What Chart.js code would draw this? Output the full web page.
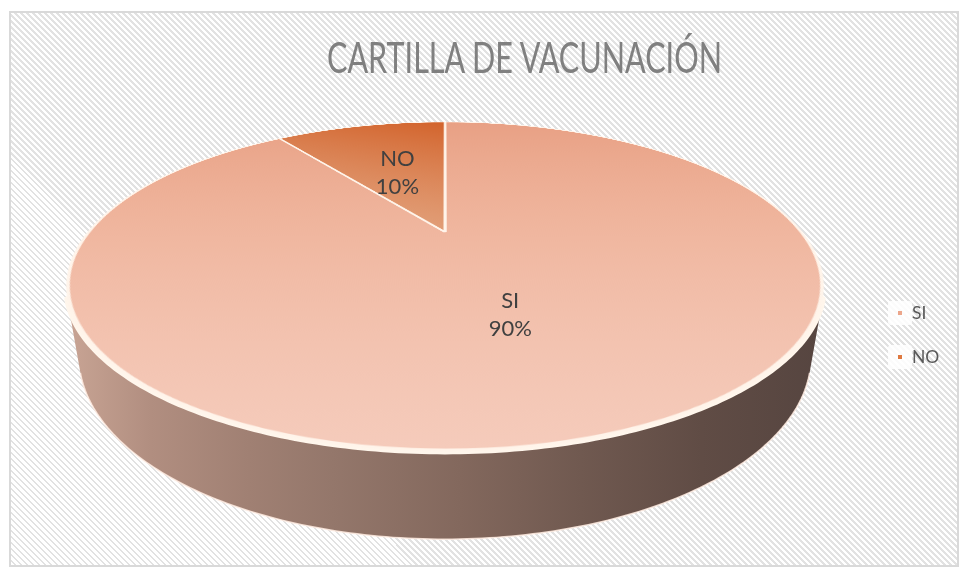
<!DOCTYPE html>
<html lang="es">
<head>
<meta charset="utf-8">
<title>CARTILLA DE VACUNACIÓN</title>
<script src="https://cdn.jsdelivr.net/npm/chart.js@4.4.1/dist/chart.umd.min.js"></script>
<style>
  html, body { margin:0; padding:0; width:967px; height:577px; overflow:hidden; background:#ffffff; }
  #frame { position:absolute; left:9px; top:11px; width:946px; height:552px; border:2px solid #d9d9d9;
    background-color:#ffffff;
    background-image: repeating-linear-gradient(45deg, #ffffff 0px, #ffffff 2.3px, #e2e2e2 2.3px, #e2e2e2 4.24px); }
  #wall { position:absolute; left:0; top:0; }
  #pie { position:absolute; }
  #title { position:absolute; white-space:nowrap; font-family:Lato, 'Open Sans', sans-serif; color:#808080; transform-origin:0 0; }
  .lbl { position:absolute; font-family:Lato, 'Open Sans', sans-serif; font-size:22px; line-height:28px; color:#404040; text-align:center; white-space:nowrap; transform:translate(-50%,-50%); }
  .lgbox { position:absolute; width:24px; height:24px; background:rgba(255,255,255,0.85); border-radius:3px; }
  .lgmark { position:absolute; width:4px; height:4px; }
  .lgtext { position:absolute; font-family:Lato, 'Open Sans', sans-serif; font-size:17.5px; line-height:20px; color:#595959; white-space:nowrap; }
</style>
</head>
<body>
<div id="frame"></div>
<canvas id="wall" width="967" height="577"></canvas>
<canvas id="pie" width="760" height="760"></canvas>
<div id="overlay"></div>
<script>
// ---------------- data ----------------
const TITLE = 'CARTILLA DE VACUNACIÓN';
const categories = ['SI', 'NO'];
const percentValues = [90, 10];
const legendColors = ['#eca68b', '#df7940'];

// ---------------- style / 3D view ----------------
const PIE_RADIUS = 356;          // radius of the pie disc (px, before tilt)
const TILT_DEG = 65.75;          // rotateX of the pie plane
const PERSPECTIVE = 985.7;       // css perspective distance
const DEPTH = 75;                // thickness of the pie
const CENTER = { x: 445, y: 232 };
const BORDER_W = 3;
const BORDER_COLOR = '#fff4ea';
const faceStops = [
  [['#e8a084', 0], ['#efb49c', 0.45], ['#f5cbbb', 1]],
  [['#d2622a', 0], ['#e3a47f', 1]]
];
const wallStops = [
  [[0, '#c8a494'], [0.11, '#b18e80'], [0.24, '#a08073'], [0.35, '#94776b'], [0.52, '#83685d'], [0.68, '#705950'], [0.84, '#604c45'], [1, '#564540']],
  [[0, '#b5663a'], [1, '#5e3320']]
];

const T = TILT_DEG * Math.PI / 180;
const cosT = Math.cos(T), sinT = Math.sin(T);

function project(lx, ly, lz) {
  const y1 = ly * cosT - lz * sinT;
  const z1 = ly * sinT + lz * cosT;
  const f = PERSPECTIVE / (PERSPECTIVE - z1);
  return [CENTER.x + lx * f, CENTER.y + y1 * f];
}

// place the pie canvas in 3D
const pieCanvas = document.getElementById('pie');
const HALF = pieCanvas.width / 2;
pieCanvas.style.left = (CENTER.x - HALF) + 'px';
pieCanvas.style.top = (CENTER.y - HALF) + 'px';
pieCanvas.style.transformOrigin = HALF + 'px ' + HALF + 'px';
pieCanvas.style.transform = 'perspective(' + PERSPECTIVE + 'px) rotateX(' + TILT_DEG + 'deg)';

function faceFill(ctx) {
  const chart = ctx.chart;
  const a = chart.chartArea;
  const i = ctx.dataIndex;
  if (!a || i === undefined) return legendColors[i || 0];
  const cx = (a.left + a.right) / 2, cy = (a.top + a.bottom) / 2, R = PIE_RADIUS;
  let g;
  if (i === 0) {
    g = chart.ctx.createLinearGradient(cx, cy - R, cx, cy + R);
  } else {
    g = chart.ctx.createLinearGradient(cx + 0.05 * R, cy - R, cx - 0.35 * R, cy - 0.05 * R);
  }
  faceStops[i].forEach(([c, o]) => g.addColorStop(o, c));
  return g;
}

function drawWallPiece(wctx, a, b, i, Rw) {
  const N = 160;
  wctx.beginPath();
  for (let k = 0; k <= N; k++) {
    const t = a + (b - a) * k / N;
    const p = project(Rw * Math.cos(t), Rw * Math.sin(t), 0);
    if (k === 0) wctx.moveTo(p[0], p[1]); else wctx.lineTo(p[0], p[1]);
  }
  for (let k = N; k >= 0; k--) {
    const t = a + (b - a) * k / N;
    const p = project(Rw * Math.cos(t), Rw * Math.sin(t), -DEPTH);
    wctx.lineTo(p[0], p[1]);
  }
  wctx.closePath();
  const xl = CENTER.x - 377, xr = CENTER.x + 377;
  const g = wctx.createLinearGradient(xl, 0, xr, 0);
  wallStops[i].forEach(([o, c]) => g.addColorStop(o, c));
  wctx.fillStyle = g;
  wctx.fill();
  // light bottom edge
  wctx.beginPath();
  for (let k = 0; k <= N; k++) {
    const t = a + (b - a) * k / N;
    const p = project(Rw * Math.cos(t), Rw * Math.sin(t), -DEPTH);
    if (k === 0) wctx.moveTo(p[0], p[1]); else wctx.lineTo(p[0], p[1]);
  }
  wctx.strokeStyle = 'rgba(255,236,226,0.85)';
  wctx.lineWidth = 1.5;
  wctx.stroke();
  // cream rim at top edge
  wctx.beginPath();
  for (let k = 0; k <= N; k++) {
    const t = a + (b - a) * k / N;
    const p = project(Rw * Math.cos(t), Rw * Math.sin(t), 0);
    if (k === 0) wctx.moveTo(p[0], p[1]); else wctx.lineTo(p[0], p[1]);
  }
  wctx.strokeStyle = '#fff6ec';
  wctx.lineWidth = 6;
  wctx.lineCap = 'round';
  wctx.stroke();
}

const overlayPlugin = {
  id: 'overlay3d',
  afterRender(chart) {
    const meta = chart.getDatasetMeta(0);
    const wall = document.getElementById('wall');
    const wctx = wall.getContext('2d');
    wctx.clearRect(0, 0, wall.width, wall.height);
    const Rw = PIE_RADIUS + BORDER_W / 2;
    const camY = PERSPECTIVE * sinT;
    const vis0 = Math.asin(Math.min(1, Rw / camY));
    const vis1 = Math.PI - vis0;
    meta.data.forEach((arc, i) => {
      const s = arc.startAngle, e = arc.endAngle;
      [-2 * Math.PI, 0, 2 * Math.PI].forEach(shift => {
        const a = Math.max(s + shift, vis0), b = Math.min(e + shift, vis1);
        if (b > a) drawWallPiece(wctx, a, b, i, Rw);
      });
    });

    const ov = document.getElementById('overlay');
    ov.innerHTML = '';
    // data labels
    meta.data.forEach((arc, i) => {
      const tp = arc.tooltipPosition(true);
      const p = project(tp.x - arc.x, tp.y - arc.y, 0);
      const d = document.createElement('div');
      d.className = 'lbl';
      d.style.left = p[0] + 'px';
      d.style.top = p[1] + 'px';
      const l1 = document.createElement('div'); l1.textContent = categories[i];
      const l2 = document.createElement('div'); l2.textContent = percentValues[i] + '%';
      d.appendChild(l1); d.appendChild(l2);
      ov.appendChild(d);
    });
    // title
    const t = document.createElement('span');
    t.id = 'title';
    t.textContent = TITLE;
    t.style.fontSize = '42px';
    t.style.lineHeight = '42px';
    t.style.fontWeight = '400';
    t.style.left = '327px';
    t.style.top = '36px';
    ov.appendChild(t);
    const w = t.getBoundingClientRect().width;
    t.style.transform = 'scaleX(' + (395 / w) + ')';
    // legend
    categories.forEach((c, i) => {
      const cy = 313 + 44 * i;
      const box = document.createElement('div');
      box.className = 'lgbox'; box.style.left = '888px'; box.style.top = (cy - 12) + 'px';
      const mk = document.createElement('div');
      mk.className = 'lgmark'; mk.style.left = '898px'; mk.style.top = (cy - 2) + 'px';
      mk.style.background = legendColors[i];
      const tx = document.createElement('div');
      tx.className = 'lgtext'; tx.style.left = '912px'; tx.style.top = (cy - 10.5) + 'px';
      tx.textContent = c;
      ov.appendChild(box); ov.appendChild(mk); ov.appendChild(tx);
    });
  }
};

new Chart(pieCanvas, {
  type: 'pie',
  data: {
    labels: categories,
    datasets: [{
      data: percentValues,
      backgroundColor: faceFill,
      borderColor: BORDER_COLOR,
      borderWidth: BORDER_W,
      radius: PIE_RADIUS
    }]
  },
  options: {
    responsive: false,
    animation: false,
    events: [],
    layout: { padding: 0 },
    plugins: { legend: { display: false }, tooltip: { enabled: false }, title: { display: false } }
  },
  plugins: [overlayPlugin]
});
</script>
</body>
</html>
